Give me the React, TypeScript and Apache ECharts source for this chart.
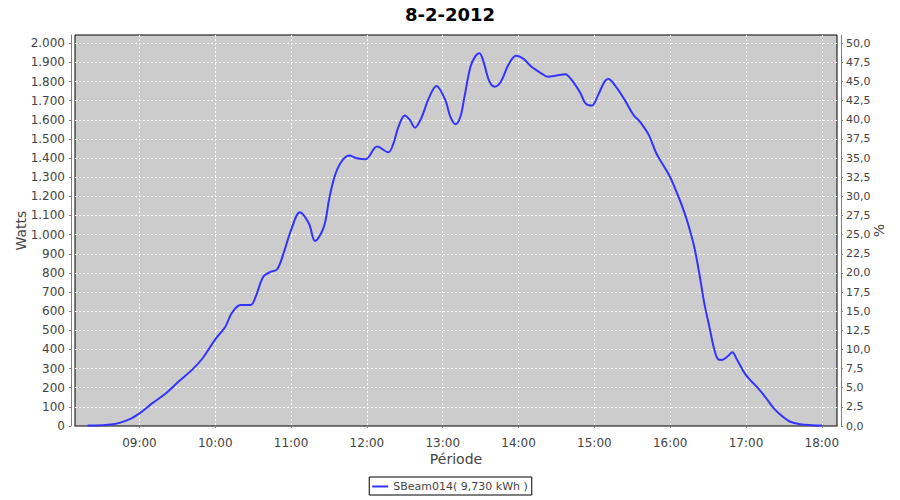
import React, { useEffect, useRef } from "react";
import * as echarts from "echarts";

const titleText = "8-2-2012";
const seriesName = "SBeam014( 9,730 kWh )";
const yNameLeft = "Watts";
const yNameRight = "%";
const xName = "Période";

const times = [
  "08:19", "08:39", "08:52", "09:00", "09:10", "09:21", "09:31", "09:42", "09:50", "10:00",
  "10:08", "10:13", "10:20", "10:28", "10:32", "10:38", "10:44", "10:49", "10:54", "11:00",
  "11:07", "11:14", "11:19", "11:26", "11:30", "11:34", "11:39", "11:46", "11:52", "11:59",
  "12:08", "12:17", "12:21", "12:25", "12:30", "12:34", "12:38", "12:43", "12:49", "12:55",
  "13:02", "13:06", "13:10", "13:14", "13:17", "13:22", "13:26", "13:29", "13:32", "13:37",
  "13:41", "13:46", "13:52", "13:58", "14:04", "14:10", "14:18", "14:23", "14:30", "14:37",
  "14:42", "14:49", "14:53", "14:58", "15:03", "15:08", "15:11", "15:17", "15:24", "15:31",
  "15:36", "15:43", "15:49", "15:56", "16:00", "16:06", "16:11", "16:14", "16:19", "16:23",
  "16:27", "16:31", "16:35", "16:38", "16:41", "16:46", "16:49", "16:53", "16:59", "17:04",
  "17:09", "17:16", "17:22", "17:29", "17:35", "17:43", "17:52", "18:00",
];

const watts = [
  2, 9, 35, 66, 118, 171, 232, 296, 354, 453,
  519, 589, 632, 632, 676, 780, 806, 819, 902, 1024,
  1117, 1059, 967, 1042, 1181, 1294, 1373, 1413, 1399, 1394,
  1460, 1430, 1477, 1564, 1622, 1599, 1559, 1608, 1713, 1777,
  1704, 1616, 1577, 1616, 1713, 1878, 1934, 1948, 1909, 1799,
  1773, 1799, 1887, 1935, 1918, 1878, 1843, 1825, 1831, 1838,
  1808, 1739, 1686, 1674, 1730, 1799, 1813, 1773, 1704, 1625,
  1590, 1521, 1425, 1347, 1300, 1207, 1120, 1059, 937, 798,
  641, 519, 397, 348, 345, 367, 385, 345, 275, 235,
  202, 145, 92, 49, 22, 9, 4, 2,
];

const xTickLabels = ["09:00", "10:00", "11:00", "12:00", "13:00", "14:00", "15:00", "16:00", "17:00", "18:00"];
const xStart = "08:09";
const xEnd = "18:12";
const leftMax = 2043;
const rightMax = 51.08;

function mins(hm: string): number {
  const [h, m] = hm.split(":").map(Number);
  return h * 60 + m;
}

function pad(n: number) {
  return n < 10 ? "0" + n : "" + n;
}

export default function App() {
  const ref = useRef<HTMLDivElement>(null);
  useEffect(() => {
    if (!ref.current) return;
    const chart = echarts.init(ref.current, null, { renderer: "svg" });
    const font = "DejaVu Sans";
    const labelColor = "#444444";
    const dash = { color: "#ffffff", type: [2, 2], width: 1 };
    const xTicks = xTickLabels.map(mins);
    chart.setOption({
      animation: false,
      backgroundColor: "#ffffff",
      textStyle: { fontFamily: font },
      title: {
        text: titleText,
        left: "center",
        top: 0,
        textStyle: { fontFamily: font, fontSize: 18, fontWeight: "bold", color: "#000000" },
      },
      legend: {
        data: [seriesName],
        left: "center",
        top: 477,
        padding: [4, 4, 3, 3],
        borderColor: "#000000",
        borderWidth: 1,
        icon: "rect",
        itemWidth: 16,
        itemHeight: 2,
        itemGap: 4,
        textStyle: { fontFamily: font, fontSize: 11, color: labelColor },
      },
      grid: {
        left: 75,
        right: 63,
        top: 35,
        bottom: 74,
        show: true,
        backgroundColor: "#cccccc",
        borderColor: "#000000",
        borderWidth: 1,
        containLabel: false,
      },
      xAxis: {
        type: "value",
        min: mins(xStart),
        max: mins(xEnd),
        interval: 60,
        offset: 4,
        name: xName,
        nameLocation: "middle",
        nameGap: 22,
        nameMoveOverlap: false,
        nameTextStyle: { fontFamily: font, fontSize: 14, color: labelColor },
        axisLine: { show: true, lineStyle: { color: "#808080", width: 1 } },
        axisTick: { show: true, length: 2, customValues: xTicks, lineStyle: { color: "#808080" } },
        axisLabel: {
          fontFamily: font,
          fontSize: 12,
          color: labelColor,
          margin: 7,
          customValues: xTicks,
          formatter: (v: number) => {
            if (v % 60 !== 0) return "";
            return pad(Math.floor(v / 60)) + ":" + pad(v % 60);
          },
        },
        splitLine: { show: true, showMinLine: true, showMaxLine: true, lineStyle: dash },
      },
      yAxis: [
        {
          type: "value",
          min: 0,
          max: leftMax,
          interval: 100,
          position: "left",
          offset: 4,
          name: yNameLeft,
          nameLocation: "middle",
          nameGap: 43,
          nameMoveOverlap: false,
          nameTextStyle: { fontFamily: font, fontSize: 14, color: labelColor },
          axisLine: { show: true, lineStyle: { color: "#808080", width: 1 } },
          axisTick: { show: true, length: 2, lineStyle: { color: "#808080" } },
          axisLabel: {
            fontFamily: font,
            fontSize: 12,
            color: labelColor,
            margin: 6,
            showMaxLabel: false,
            formatter: (v: number) => {
              if (v > 2000) return "";
              return String(Math.round(v)).replace(/\B(?=(\d{3})+(?!\d))/g, ".");
            },
          },
          splitLine: { show: true, showMinLine: false, showMaxLine: false, lineStyle: dash },
        },
        {
          type: "value",
          min: 0,
          max: rightMax,
          interval: 2.5,
          position: "right",
          offset: 4,
          name: yNameRight,
          nameLocation: "middle",
          nameGap: 31,
          nameMoveOverlap: false,
          nameRotate: 90,
          nameTextStyle: { fontFamily: font, fontSize: 14, color: labelColor },
          axisLine: { show: true, lineStyle: { color: "#808080", width: 1 } },
          axisTick: { show: true, length: 2, lineStyle: { color: "#808080" } },
          axisLabel: {
            fontFamily: font,
            fontSize: 11,
            color: labelColor,
            margin: 5,
            showMaxLabel: false,
            formatter: (v: number) => (v > 50.01 ? "" : v.toFixed(1).replace(".", ",")),
          },
          splitLine: { show: false },
        },
      ],
      series: [
        {
          name: seriesName,
          type: "line",
          yAxisIndex: 0,
          smooth: 0.35,
          showSymbol: false,
          symbol: "none",
          lineStyle: { color: "#3333ff", width: 2 },
          itemStyle: { color: "#3333ff" },
          data: times.map((t, i) => [mins(t), watts[i]]),
        },
      ],
    });
    return () => chart.dispose();
  }, []);
  return (
    <div
      ref={ref}
      style={{ position: "fixed", left: 0, top: 0, width: 900, height: 500 }}
    />
  );
}
